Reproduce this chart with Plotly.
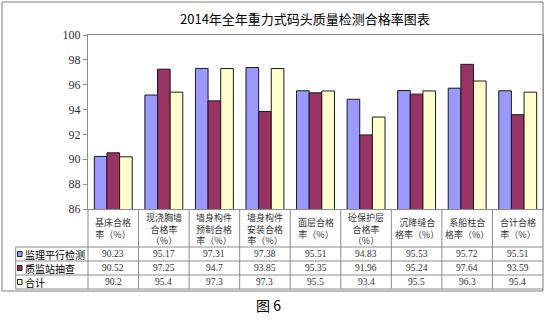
import plotly.graph_objects as go

categories = ["基床合格<br>率（%）", "现浇胸墙<br>合格率<br>（%）", "墙身构件<br>预制合格<br>率（%）",
              "墙身构件<br>安装合格<br>率（%）", "面层合格<br>率（%）", "砼保护层<br>合格率<br>（%）",
              "沉降缝合<br>格率（%）", "系船柱合<br>格率（%）", "合计合格<br>率（%）"]
series_names = ["监理平行检测", "质监站抽查", "合计"]
supervision = [90.23, 95.17, 97.31, 97.38, 95.51, 94.83, 95.53, 95.72, 95.51]
station = [90.52, 97.25, 94.7, 93.85, 95.35, 91.96, 95.24, 97.64, 93.59]
total = [90.2, 95.4, 97.3, 97.3, 95.5, 93.4, 95.5, 96.3, 95.4]
colors = ["#9999FF", "#993366", "#FFFFCC"]
y_ticks = [86, 88, 90, 92, 94, 96, 98, 100]
title = "2014年全年重力式码头质量检测合格率图表"
caption = "图 6"

W, H = 546, 322
L, R, T, B = 88, 3, 35, 113
PW, PH = W - L - R, H - T - B


def px(xp):
    return (xp - L) / PW


def py(yp):
    return (H - B - yp) / PH


all_series = [supervision, station, total]
fig = go.Figure()
idx = list(range(len(categories)))
for name, vals, c in zip(series_names, all_series, colors):
    fig.add_trace(go.Bar(x=idx, y=vals, name=name,
                         marker=dict(color=c, line=dict(color="#1a1a1a", width=1)),
                         showlegend=False))

line_c = "#8c8c8c"
shapes = []
shapes.append(dict(type="rect", xref="paper", yref="paper", x0=px(2), x1=px(543), y0=py(291), y1=py(2),
                   line=dict(color="#7f7f7f", width=1), layer="below"))
row_lines = [247, 261, 275, 289]
for yl in row_lines:
    shapes.append(dict(type="line", xref="paper", yref="paper", x0=px(15.7), x1=1, y0=py(yl), y1=py(yl),
                       line=dict(color=line_c, width=1)))
shapes.append(dict(type="line", xref="paper", yref="paper", x0=px(15.7), x1=px(15.7), y0=py(247), y1=py(289),
                   line=dict(color=line_c, width=1)))
shapes.append(dict(type="line", xref="paper", yref="paper", x0=0, x1=0, y0=0, y1=py(289),
                   line=dict(color=line_c, width=1)))
for k in range(len(categories) - 1):
    shapes.append(dict(type="line", xref="x", yref="paper", x0=k + 0.5, x1=k + 0.5, y0=0, y1=py(289),
                       line=dict(color=line_c, width=1)))

annotations = []
annotations.append(dict(text=title, xref="paper", yref="paper", x=px(305), y=py(18), showarrow=False,
                        font=dict(family="Noto Sans CJK SC", size=13, color="#000"),
                        xanchor="center", yanchor="middle"))
annotations.append(dict(text=caption, xref="paper", yref="paper", x=px(268), y=py(305), showarrow=False,
                        font=dict(family="Noto Sans CJK SC", size=14, color="#000"),
                        xanchor="center", yanchor="middle"))
for i, cat in enumerate(categories):
    annotations.append(dict(text=cat, xref="x", yref="paper", x=i, y=py(228.5), showarrow=False,
                            font=dict(family="Noto Sans CJK SC", size=9, color="#333"),
                            xanchor="center", yanchor="middle", align="center"))
row_centers = [254, 268, 282]
for r, (vals, yc) in enumerate(zip(all_series, row_centers)):
    for i, v in enumerate(vals):
        annotations.append(dict(text=f"{v:g}", xref="x", yref="paper", x=i, y=py(yc), showarrow=False,
                                font=dict(family="Liberation Serif", size=9.5, color="#333"),
                                xanchor="center", yanchor="middle"))
    annotations.append(dict(text=series_names[r], xref="paper", yref="paper", x=px(23), y=py(yc),
                            showarrow=False, font=dict(family="Noto Sans CJK SC", size=10, color="#000"),
                            xanchor="left", yanchor="middle"))
    shapes.append(dict(type="rect", xref="paper", yref="paper", x0=px(17.5), x1=px(22), y0=py(yc + 2.5),
                       y1=py(yc - 2.5), fillcolor=colors[r], line=dict(color="#1a1a1a", width=1)))

fig.update_layout(
    width=W, height=H,
    margin=dict(l=L, r=R, t=T, b=B),
    paper_bgcolor="white", plot_bgcolor="white",
    barmode="group", bargap=0.25, bargroupgap=0,
    shapes=shapes, annotations=annotations,
    xaxis=dict(range=[-0.5, len(categories) - 0.5], showticklabels=False, ticks="", showgrid=False,
               zeroline=False, showline=True, mirror=True, linecolor=line_c, linewidth=1),
    yaxis=dict(range=[86, 100], tickvals=y_ticks, ticktext=[str(t) for t in y_ticks],
               ticks="outside", ticklen=4, tickcolor=line_c, showgrid=False, zeroline=False,
               showline=True, mirror=True, linecolor=line_c, linewidth=1,
               tickfont=dict(family="Liberation Serif", size=12, color="#333")),
)
fig.write_html("out.html")
